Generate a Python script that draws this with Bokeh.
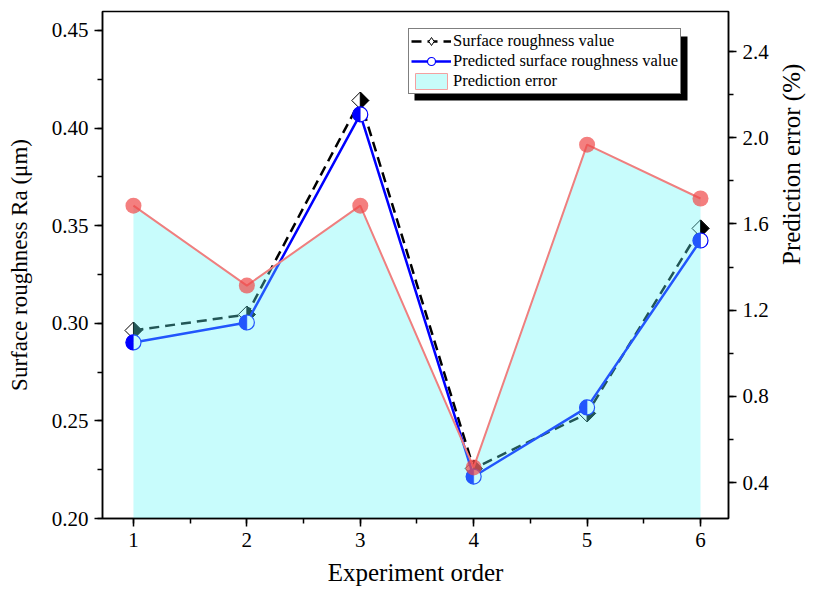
import numpy as np
from bokeh.plotting import figure
from bokeh.models import (Range1d, LinearAxis, SingleIntervalTicker, NumeralTickFormatter,
                          Legend, LegendItem, BoxAnnotation, ColumnDataSource)
from bokeh.embed import file_html
from bokeh.resources import INLINE

# ---------------- data ----------------
experiment = [1, 2, 3, 4, 5, 6]
measured_ra = [0.2963, 0.3045, 0.4141, 0.2256, 0.2538, 0.3486]
predicted_ra = [0.2902, 0.3004, 0.4070, 0.2215, 0.2569, 0.3424]
prediction_error = [1.685, 1.314, 1.685, 0.470, 1.968, 1.718]

x_label = "Experiment order"
y_label = "Surface roughness Ra (μm)"
y2_label = "Prediction error (%)"
series_names = ["Surface roughness value", "Predicted surface roughness value", "Prediction error"]

# ---------------- layout ----------------
X_RANGE = (0.727, 6.247)
Y_RANGE = (0.20, 0.4597)
Y2_RANGE = (0.233, 2.586)
FRAME_W, FRAME_H = 626, 507
SERIF = "Liberation Serif"

p = figure(frame_width=FRAME_W, frame_height=FRAME_H,
           x_range=Range1d(*X_RANGE), y_range=Range1d(*Y_RANGE),
           output_backend="svg", toolbar_location=None,
           min_border_left=102, min_border_right=78, min_border_top=11, min_border_bottom=66,
           background_fill_color="white", border_fill_color="white",
           outline_line_color="black", outline_line_width=1.5)
p.grid.visible = False
p.extra_y_ranges = {"err": Range1d(*Y2_RANGE)}


def style_axis(ax, label, label_size, standoff):
    ax.axis_line_color = "black"
    ax.axis_line_width = 1.5
    ax.major_tick_line_color = "black"
    ax.major_tick_line_width = 1.5
    ax.minor_tick_line_color = "black"
    ax.minor_tick_line_width = 1.5
    ax.major_tick_in = 0
    ax.major_tick_out = 8
    ax.minor_tick_in = 0
    ax.minor_tick_out = 5
    ax.major_label_text_font = SERIF
    ax.major_label_text_font_size = "21px"
    ax.major_label_text_color = "black"
    ax.major_label_standoff = 6
    ax.axis_label = label
    ax.axis_label_text_font = SERIF
    ax.axis_label_text_font_size = label_size
    ax.axis_label_text_font_style = "normal"
    ax.axis_label_text_color = "black"
    ax.axis_label_standoff = standoff


xa = p.xaxis[0]
xa.ticker = SingleIntervalTicker(interval=1, num_minor_ticks=2)
style_axis(xa, x_label, "25px", 9)

ya = p.yaxis[0]
ya.ticker = SingleIntervalTicker(interval=0.05, num_minor_ticks=2)
ya.formatter = NumeralTickFormatter(format="0.00")
style_axis(ya, y_label, "23px", 17)

ya2 = LinearAxis(y_range_name="err",
                 ticker=SingleIntervalTicker(interval=0.4, num_minor_ticks=2),
                 formatter=NumeralTickFormatter(format="0.0"))
style_axis(ya2, y2_label, "25px", 20)
ya2.axis_label_orientation = np.pi / 2
p.add_layout(ya2, "right")

# ---------------- series ----------------
src = ColumnDataSource(dict(x=experiment, meas=measured_ra, pred=predicted_ra, err=prediction_error))

# measured: dashed black line + half-filled diamond
r_meas_line = p.line("x", "meas", source=src, line_color="black", line_width=2.5, line_dash="10 6")
p.scatter("x", "meas", source=src, marker="square", angle=np.pi / 4, size=12,
          fill_color="white", line_color="black", line_width=1)
px_x = FRAME_W / (X_RANGE[1] - X_RANGE[0])
px_y = FRAME_H / (Y_RANGE[1] - Y_RANGE[0])
half = 8.5
dx, dy = half / px_x, half / px_y
half_xs = [[xv, xv + dx, xv] for xv in experiment]
half_ys = [[yv + dy, yv, yv - dy] for yv in measured_ra]
p.patches(half_xs, half_ys, fill_color="black", line_color="black", line_width=1)

# predicted: blue line + half-filled circle
r_pred_line = p.line("x", "pred", source=src, line_color="#0000ff", line_width=2.5)
r_pred_circle = p.scatter("x", "pred", source=src, marker="circle", size=15,
                          fill_color="white", line_color="#0000ff", line_width=1.2)
p.wedge("x", "pred", source=src, radius=7.5, radius_units="screen",
        start_angle=np.pi / 2, end_angle=3 * np.pi / 2,
        fill_color="#0000ff", line_color="#0000ff", line_width=0.5)

# prediction error area (translucent, drawn over the roughness lines)
p.varea(x="x", y1=Y2_RANGE[0], y2="err", source=src, y_range_name="err",
        fill_color="#61f6f6", fill_alpha=0.35)
p.line("x", "err", source=src, y_range_name="err", line_color="#ef7f7f", line_width=2)
p.scatter("x", "err", source=src, y_range_name="err", marker="circle", size=16,
          fill_color="#f04848", fill_alpha=0.7, line_alpha=0)

# legend-only glyph keys (no visible data)
key_src = ColumnDataSource(dict(x=[np.nan], y=[np.nan]))
r_key_diamond = p.scatter("x", "y", source=key_src, marker="diamond", size=14,
                          fill_color="white", line_color="black", line_width=1)
r_key_patch = p.quad(left="x", right="x", top="y", bottom="y", source=key_src,
                     fill_color="#c8fcfa", line_color="#f4a0a0", line_width=1)

# ---------------- legend with shadow ----------------
LEG_X, LEG_Y_TOP, LEG_W, LEG_H, SH = 306, 19, 273, 64, 6
shadow = BoxAnnotation(left=LEG_X + SH, right=LEG_X + LEG_W + SH,
                       top=FRAME_H - LEG_Y_TOP - SH, bottom=FRAME_H - LEG_Y_TOP - LEG_H - SH,
                       left_units="screen", right_units="screen",
                       top_units="screen", bottom_units="screen",
                       fill_color="black", fill_alpha=1.0, line_alpha=0)
p.add_layout(shadow)

legend = Legend(items=[
    LegendItem(label=series_names[0], renderers=[r_meas_line, r_key_diamond]),
    LegendItem(label=series_names[1], renderers=[r_pred_line, r_pred_circle]),
    LegendItem(label=series_names[2], renderers=[r_key_patch]),
], location=(LEG_X, FRAME_H - LEG_Y_TOP - LEG_H))
legend.label_text_font = SERIF
legend.label_text_font_size = "16.5px"
legend.label_text_color = "black"
legend.padding = 2
legend.spacing = 0
legend.margin = 0
legend.glyph_width = 40
legend.glyph_height = 20
legend.label_height = 20
legend.label_standoff = 2
legend.border_line_color = "black"
legend.border_line_width = 1
legend.background_fill_color = "white"
legend.background_fill_alpha = 1.0
p.add_layout(legend)

open("out.html", "w").write(file_html(p, INLINE))
